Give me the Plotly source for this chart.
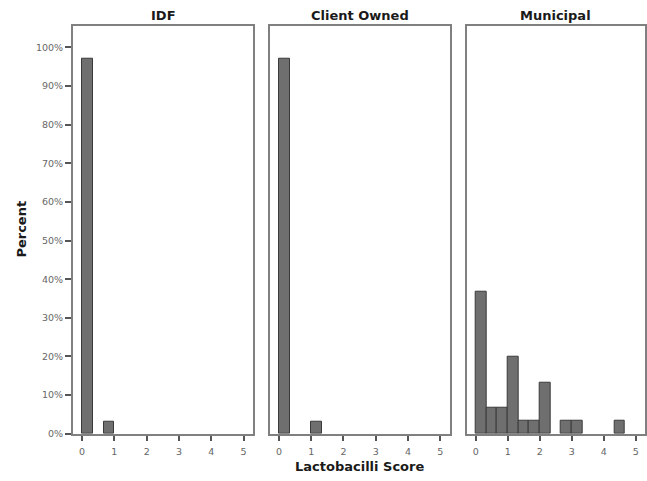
import plotly.graph_objects as go

# ---- data (percent of samples per Lactobacilli score bin, bin width 1/3) ----
groups = ["IDF", "Client Owned", "Municipal"]
bin_width = 1 / 3

idf_bin_starts = [0.0, 2 / 3]
idf_percent = [96.97, 3.03]

client_bin_starts = [0.0, 1.0]
client_percent = [96.97, 3.03]

muni_bin_starts = [0.0, 1 / 3, 2 / 3, 1.0, 4 / 3, 5 / 3, 2.0, 8 / 3, 3.0, 13 / 3]
muni_percent = [36.67, 6.67, 6.67, 20.0, 3.33, 3.33, 13.33, 3.33, 3.33, 3.33]

x_ticks = [0, 1, 2, 3, 4, 5]
y_ticks = [0, 10, 20, 30, 40, 50, 60, 70, 80, 90, 100]
y_tick_labels = [f"{v}%" for v in y_ticks]

W, H = 647, 481
panels_px = [(73, 253), (270, 449.5), (466.7, 645)]
y_top_px, y_bot_px = 26, 438.3


def px_x(v):
    return v / W


def px_y(v):
    return 1 - v / H


series = [(idf_bin_starts, idf_percent), (client_bin_starts, client_percent),
          (muni_bin_starts, muni_percent)]

fig = go.Figure()
frame_col = "#808080"
font_fam = "DejaVu Sans, Verdana, sans-serif"
tick_font = dict(size=9.5, color="#666", family=font_fam)
title_font = dict(size=13, color="#1a1a1a", family=font_fam)

for i, (starts, vals) in enumerate(series):
    xa = "x" if i == 0 else f"x{i+1}"
    ya = "y" if i == 0 else f"y{i+1}"
    fig.add_trace(go.Bar(
        x=starts, y=vals, width=bin_width, offset=0,
        marker=dict(color="#6f6f6f", line=dict(color="#3a3a3a", width=1)),
        xaxis=xa, yaxis=ya, showlegend=False, hoverinfo="skip"))
    l, r = panels_px[i]
    xkey = "xaxis" if i == 0 else f"xaxis{i+1}"
    ykey = "yaxis" if i == 0 else f"yaxis{i+1}"
    fig.update_layout(**{
        xkey: dict(domain=[px_x(l), px_x(r)], range=[-0.28, 5.29], anchor=ya,
                   tickvals=x_ticks, ticktext=[str(t) for t in x_ticks],
                   ticks="outside", ticklen=5, tickwidth=1.5, tickcolor="#555",
                   showline=True, mirror=True, linecolor=frame_col, linewidth=2,
                   showgrid=False, zeroline=False, ticklabelstandoff=3,
                   tickfont=tick_font),
        ykey: dict(domain=[px_y(y_bot_px), px_y(y_top_px)], range=[0, 105.6],
                   anchor=xa, showline=True, mirror=True, linecolor=frame_col,
                   linewidth=2, showgrid=False, zeroline=False,
                   tickvals=y_ticks if i == 0 else [],
                   ticktext=y_tick_labels if i == 0 else [],
                   ticks="outside" if i == 0 else "", ticklen=6, tickwidth=1.5,
                   tickcolor="#555", showticklabels=(i == 0),
                   ticklabelstandoff=0, tickfont=tick_font),
    })
    fig.add_annotation(text=f"<b>{groups[i]}</b>", x=px_x((l + r) / 2), y=px_y(16),
                       xref="paper", yref="paper", showarrow=False,
                       xanchor="center", yanchor="middle", font=title_font)

fig.add_annotation(text="<b>Percent</b>", x=px_x(22), y=px_y(232), xref="paper",
                   yref="paper", showarrow=False, textangle=-90,
                   xanchor="center", yanchor="middle", font=title_font)
fig.add_annotation(text="<b>Lactobacilli Score</b>", x=px_x(359.5), y=px_y(471),
                   xref="paper", yref="paper", showarrow=False,
                   xanchor="center", yanchor="middle", font=title_font)

fig.update_layout(width=W, height=H, margin=dict(l=0, r=0, t=0, b=0),
                  paper_bgcolor="white", plot_bgcolor="white", bargap=0)

fig.write_html(
    "out.html",
    config={"displayModeBar": False},
    post_script="document.body.style.margin='0';document.body.style.overflow='hidden';",
)
